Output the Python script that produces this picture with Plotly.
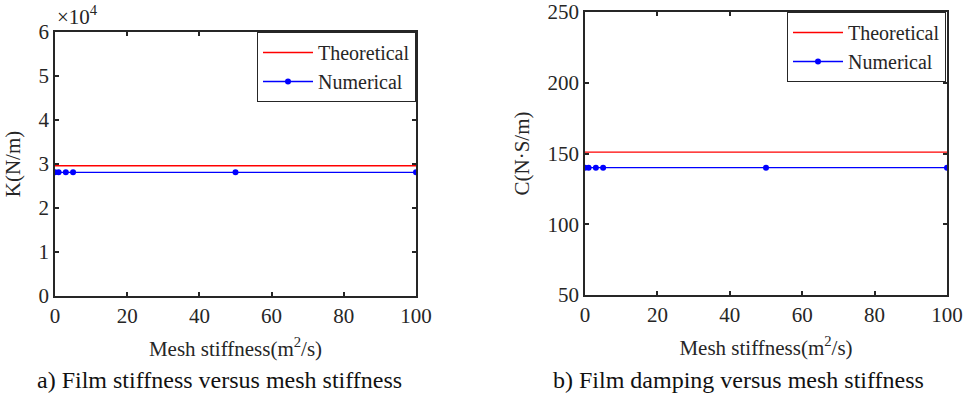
import plotly.graph_objects as go

# Data
x_mesh = [0, 1, 3, 5, 50, 100]
x_theory = [0, 100]
K_theory = [2.96e4, 2.96e4]
K_numerical = [2.81e4, 2.81e4, 2.81e4, 2.81e4, 2.81e4, 2.81e4]
C_theory = [151, 151]
C_numerical = [140, 140, 140, 140, 140, 140]

K_tickvals = [0, 1e4, 2e4, 3e4, 4e4, 5e4, 6e4]
K_ticktext = ["0", "1", "2", "3", "4", "5", "6"]
C_tickvals = [50, 100, 150, 200, 250]
x_tickvals = [0, 20, 40, 60, 80, 100]

W, H = 971, 397
FONT = "Liberation Serif, Times New Roman, serif"
AX = "#262626"

def px_x(p):
    return p / W

def px_y(p):
    return 1 - p / H

fig = go.Figure()

fig.add_trace(go.Scatter(x=x_theory, y=K_theory, mode="lines", name="Theoretical",
                         line=dict(color="#FF0000", width=1.3), xaxis="x", yaxis="y", legend="legend"))
fig.add_trace(go.Scatter(x=x_mesh, y=K_numerical, mode="lines+markers", name="Numerical",
                         line=dict(color="#0000FF", width=1.3), marker=dict(color="#0000FF", size=6),
                         xaxis="x", yaxis="y", legend="legend"))
fig.add_trace(go.Scatter(x=x_theory, y=C_theory, mode="lines", name="Theoretical",
                         line=dict(color="#FF0000", width=1.3), xaxis="x2", yaxis="y2", legend="legend2"))
fig.add_trace(go.Scatter(x=x_mesh, y=C_numerical, mode="lines+markers", name="Numerical",
                         line=dict(color="#0000FF", width=1.3), marker=dict(color="#0000FF", size=6),
                         xaxis="x2", yaxis="y2", legend="legend2"))

axis_common = dict(showline=True, linecolor=AX, linewidth=1.5, mirror="ticks", ticks="inside",
                   ticklen=4, tickwidth=1.5, tickcolor=AX, showgrid=False, zeroline=False,
                   automargin=False, ticklabeloverflow="allow",
                   tickfont=dict(family=FONT, size=21, color=AX))

TITLE_FONT = dict(family=FONT, size=21, color=AX)

fig.update_layout(
    width=W, height=H,
    margin=dict(l=0, r=0, t=0, b=0),
    paper_bgcolor="white", plot_bgcolor="white",
    font=dict(family=FONT, color=AX),
    xaxis=dict(domain=[px_x(55), px_x(416)], range=[0, 100], tickvals=x_tickvals, anchor="y",
               title=dict(text="Mesh stiffness(m<sup>2</sup>/s)", font=TITLE_FONT, standoff=14),
               **axis_common),
    yaxis=dict(domain=[px_y(296), px_y(32)], range=[0, 6e4], tickvals=K_tickvals, ticktext=K_ticktext, anchor="x",
               title=dict(text="K(N/m)", font=TITLE_FONT, standoff=12),
               **axis_common),
    xaxis2=dict(domain=[px_x(585), px_x(947)], range=[0, 100], tickvals=x_tickvals, anchor="y2",
                title=dict(text="Mesh stiffness(m<sup>2</sup>/s)", font=TITLE_FONT, standoff=14),
                **axis_common),
    yaxis2=dict(domain=[px_y(295), px_y(12)], range=[50, 250], tickvals=C_tickvals, anchor="x2",
                title=dict(text="C(N·S/m)", font=TITLE_FONT, standoff=12),
                **axis_common),
    legend=dict(x=px_x(416), y=px_y(32), xanchor="right", yanchor="top",
                bordercolor=AX, borderwidth=1, bgcolor="white",
                font=dict(family=FONT, size=20, color=AX), itemwidth=50, tracegroupgap=0),
    legend2=dict(x=px_x(946), y=px_y(12), xanchor="right", yanchor="top",
                 bordercolor=AX, borderwidth=1, bgcolor="white",
                 font=dict(family=FONT, size=20, color=AX), itemwidth=50, tracegroupgap=0),
    showlegend=True,
)

fig.add_annotation(text="×10<sup>4</sup>", xref="paper", yref="paper", x=px_x(55), y=px_y(31),
                   xanchor="left", yanchor="bottom", showarrow=False,
                   font=dict(family=FONT, size=21, color=AX))
fig.add_annotation(text="a) Film stiffness versus mesh stiffness", xref="paper", yref="paper",
                   x=px_x(219), y=px_y(380), xanchor="center", yanchor="middle", showarrow=False,
                   font=dict(family=FONT, size=24, color="#111111"))
fig.add_annotation(text="b) Film damping versus mesh stiffness", xref="paper", yref="paper",
                   x=px_x(738), y=px_y(380), xanchor="center", yanchor="middle", showarrow=False,
                   font=dict(family=FONT, size=24, color="#111111"))

fig.write_html("out.html")
